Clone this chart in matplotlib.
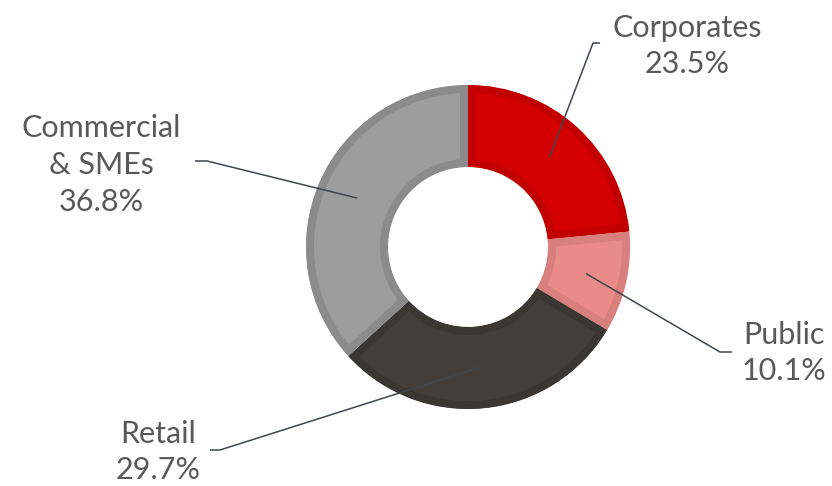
import numpy as np
import matplotlib
matplotlib.use("Agg")
import matplotlib.pyplot as plt

# Dados do gráfico
segments = ["Corporates", "Public", "Retail", "Commercial\n& SMEs"]
shares = [23.5, 10.1, 29.7, 36.8]
fill_colors = ["#d50000", "#e98c89", "#433e39", "#9d9d9d"]
edge_colors = ["#c20000", "#d97f7d", "#3a3632", "#8b8b8b"]

W, H = 832, 486
center = (468, H - 247)
radius = 162
ring = 82

# posições dos rótulos (centro do bloco) e do cotovelo da linha guia, em pixels
label_pos = [(687, 46), (784, 353), (158, 452), (101, 165)]
elbows = [((593, 43), (600, 43)),
          ((720, 352), (732, 352)),
          ((220, 450), (210, 450)),
          ((207, 161), (195, 161))]

plt.rcParams['font.family'] = ['Lato', 'DejaVu Sans']

fig = plt.figure(figsize=(W / 100, H / 100), dpi=100)
ax = fig.add_axes([0, 0, 1, 1])

wedges, _ = ax.pie(shares, colors=fill_colors, startangle=90, counterclock=False,
                   radius=radius, center=center,
                   wedgeprops=dict(width=ring, linewidth=11.5))

# borda interna mais escura (estilo Excel): traço recortado pela própria fatia
for w, ec in zip(wedges, edge_colors):
    w.set_edgecolor(ec)
    w.set_clip_path(w)
    w.set_clip_on(True)

text_color = "#595959"
line_color = "#3f464d"
total = sum(shares)
acc = 0
for i, (lab, val) in enumerate(zip(segments, shares)):
    mid = np.deg2rad(90 - (acc + val / 2) / total * 360)
    acc += val
    r = 121
    sx = center[0] + r * np.cos(mid)
    sy = center[1] + r * np.sin(mid)
    (ex, ey), (hx, hy) = elbows[i]
    ax.plot([sx, ex, hx], [sy, H - ey, H - hy], color=line_color, lw=1.1,
            solid_capstyle='butt', zorder=5)
    tx, ty = label_pos[i]
    ax.text(tx, H - ty, f"{lab}\n{val:.1f}%", ha='center', va='center',
            fontsize=22, color=text_color, linespacing=1.38)

ax.set_xlim(0, W)
ax.set_ylim(0, H)
ax.set_aspect('equal')
ax.axis('off')

fig.savefig("out.png", dpi=100)
